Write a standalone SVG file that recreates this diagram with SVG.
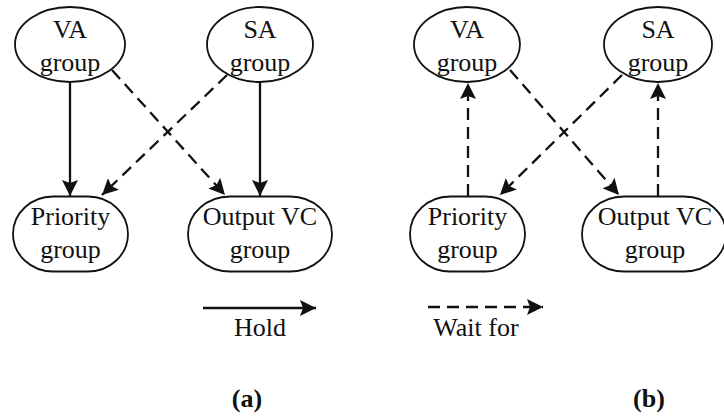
<svg xmlns="http://www.w3.org/2000/svg" width="724" height="418" viewBox="0 0 724 418">
  <style>
    .node { fill: #fff; stroke: #111; stroke-width: 1.8; }
    .lbl { font-family: "Liberation Serif", "Times New Roman", serif; font-size: 26px; fill: #111; text-anchor: middle; }
    .cap { font-family: "Liberation Serif", "Times New Roman", serif; font-size: 26px; font-weight: bold; fill: #111; text-anchor: middle; }
    .hold { fill: none; stroke: #111; stroke-width: 2.3; marker-end: url(#head); }
    .wait { fill: none; stroke: #111; stroke-width: 2.3; stroke-dasharray: 12 7; marker-end: url(#head); }
  </style>
  <defs>
    <marker id="head" markerUnits="userSpaceOnUse" markerWidth="17" markerHeight="16" refX="16" refY="8" orient="auto">
      <path d="M0,0 L16,8 L0,16 L3,8 z" fill="#111"/>
    </marker>
  </defs>
  <rect width="724" height="418" fill="#fff"/>

  <!-- panel (a): hold relations -->
  <g id="a-va">
    <ellipse class="node" cx="70" cy="44.5" rx="55" ry="37.5"/>
    <text class="lbl" x="70" y="38">VA</text>
    <text class="lbl" x="70" y="71">group</text>
  </g>
  <g id="a-sa">
    <ellipse class="node" cx="260" cy="44.5" rx="53" ry="37.5"/>
    <text class="lbl" x="260" y="38">SA</text>
    <text class="lbl" x="260" y="71">group</text>
  </g>
  <g id="a-priority">
    <rect class="node" x="13" y="196.5" width="115" height="75" rx="40" ry="37.5"/>
    <text class="lbl" x="70.5" y="225">Priority</text>
    <text class="lbl" x="70.5" y="258">group</text>
  </g>
  <g id="a-outvc">
    <rect class="node" x="188" y="196.5" width="144" height="75" rx="42" ry="37.5"/>
    <text class="lbl" x="260" y="225">Output VC</text>
    <text class="lbl" x="260" y="258">group</text>
  </g>

  <!-- panel (b): wait-for relations -->
  <g id="b-va">
    <ellipse class="node" cx="467" cy="44.5" rx="53" ry="37.5"/>
    <text class="lbl" x="467" y="38">VA</text>
    <text class="lbl" x="467" y="71">group</text>
  </g>
  <g id="b-sa">
    <ellipse class="node" cx="658" cy="44.5" rx="54" ry="37.5"/>
    <text class="lbl" x="658" y="38">SA</text>
    <text class="lbl" x="658" y="71">group</text>
  </g>
  <g id="b-priority">
    <rect class="node" x="410" y="196.5" width="115" height="75" rx="40" ry="37.5"/>
    <text class="lbl" x="467.5" y="225">Priority</text>
    <text class="lbl" x="467.5" y="258">group</text>
  </g>
  <g id="b-outvc">
    <rect class="node" x="582" y="196.5" width="144" height="75" rx="42" ry="37.5"/>
    <text class="lbl" x="655" y="225">Output VC</text>
    <text class="lbl" x="655" y="258">group</text>
  </g>

  <g id="connectors">
    <!-- (a) -->
    <line class="hold" x1="70" y1="83" x2="70" y2="196"/>
    <line class="hold" x1="260" y1="83" x2="260" y2="196"/>
    <line class="wait" x1="112" y1="70" x2="225" y2="195"/>
    <line class="wait" x1="227" y1="75" x2="102" y2="195"/>
    <!-- (b) -->
    <line class="wait" x1="468" y1="196" x2="468" y2="83"/>
    <line class="wait" x1="658" y1="196" x2="658" y2="83"/>
    <line class="wait" x1="510" y1="70" x2="619" y2="195"/>
    <line class="wait" x1="622" y1="75" x2="500" y2="195"/>
  </g>

  <!-- legends -->
  <g id="legend-hold">
    <line class="hold" x1="203" y1="308" x2="316" y2="308"/>
    <text class="lbl" x="260" y="336">Hold</text>
  </g>
  <g id="legend-wait">
    <line class="wait" x1="428" y1="307" x2="543" y2="307"/>
    <text class="lbl" x="476" y="336">Wait for</text>
  </g>

  <text class="cap" x="247" y="407">(a)</text>
  <text class="cap" x="649" y="407">(b)</text>
</svg>
